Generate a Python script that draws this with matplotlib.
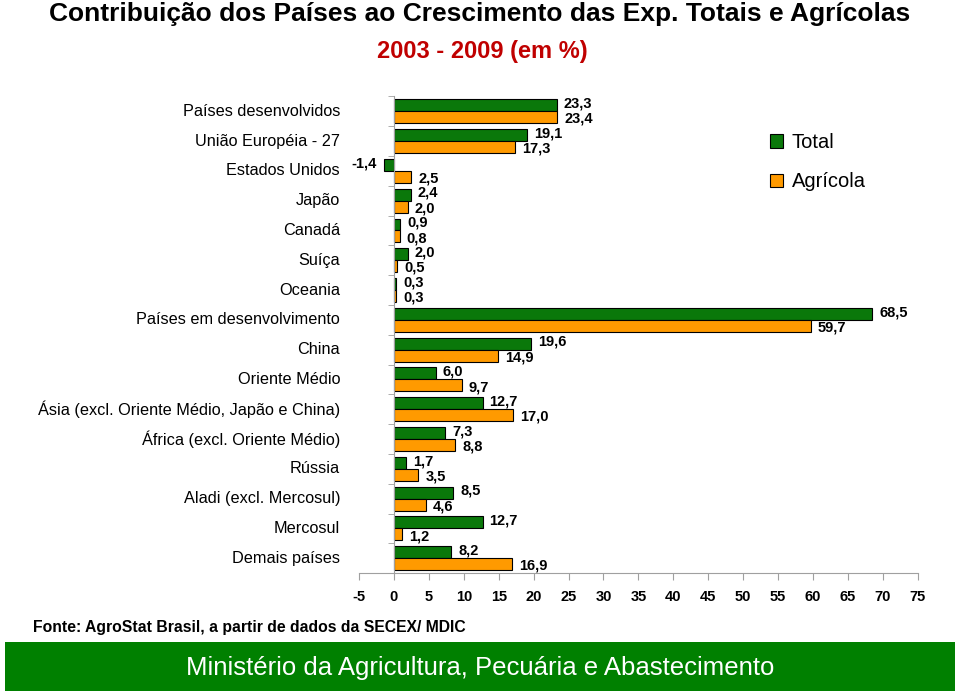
import numpy as np
import matplotlib
matplotlib.use("Agg")
import matplotlib.pyplot as plt
from matplotlib.patches import Rectangle
from matplotlib.transforms import blended_transform_factory

plt.rcParams['font.family'] = ['Liberation Sans', 'DejaVu Sans']

# data
categories = [
    "Países desenvolvidos", "União Européia - 27", "Estados Unidos", "Japão",
    "Canadá", "Suíça", "Oceania", "Países em desenvolvimento", "China",
    "Oriente Médio", "Ásia (excl. Oriente Médio, Japão e China)",
    "África (excl. Oriente Médio)", "Rússia", "Aladi (excl. Mercosul)",
    "Mercosul", "Demais países",
]
total = [23.3, 19.1, -1.4, 2.4, 0.9, 2.0, 0.3, 68.5, 19.6, 6.0, 12.7, 7.3, 1.7, 8.5, 12.7, 8.2]
agricola = [23.4, 17.3, 2.5, 2.0, 0.8, 0.5, 0.3, 59.7, 14.9, 9.7, 17.0, 8.8, 3.5, 4.6, 1.2, 16.9]
xticks = list(range(-5, 80, 5))

GREEN = "#0a780a"
ORANGE = "#ff9a00"
AXIS_GREY = "#a0a0a0"

fig = plt.figure(figsize=(9.6, 6.93), dpi=100)
ax = fig.add_axes([0.374, 0.173, 0.582, 0.688])

y = np.arange(len(categories))
h = 0.4
ax.barh(y - h / 2, total, height=h, color=GREEN, edgecolor="black", linewidth=0.8, label="Total")
ax.barh(y + h / 2, agricola, height=h, color=ORANGE, edgecolor="black", linewidth=0.8, label="Agrícola")


def fmt(v):
    return f"{v:.1f}".replace(".", ",")


# green labels nudged up, orange ones down, so the pair does not collide
for yy, vals, dy in ((y - h / 2, total, 1.2), (y + h / 2, agricola, -1.2)):
    for yi, v in zip(yy, vals):
        dx = 5 if v >= 0 else -5
        ax.annotate(fmt(v), (v, yi), xytext=(dx, dy), textcoords="offset points",
                    ha="left" if v >= 0 else "right", va="center",
                    fontsize=10.5, fontweight="bold")

ax.set_xlim(-5, 75)
ax.set_ylim(len(categories) - 0.5, -0.5)

# axes styling
for s in ("top", "right"):
    ax.spines[s].set_visible(False)
ax.spines["left"].set_position(("data", 0))
ax.spines["left"].set_color(AXIS_GREY)
ax.spines["bottom"].set_color(AXIS_GREY)

ax.set_xticks(xticks)
ax.set_xticklabels([str(t) for t in xticks], fontsize=10.5, fontweight="bold")
ax.tick_params(axis="x", direction="out", length=5, color=AXIS_GREY, pad=7)

ax.set_yticks([])
ax.set_yticks(np.arange(-0.5, len(categories), 1.0), minor=True)
ax.tick_params(axis="y", which="minor", direction="out", length=4, color=AXIS_GREY, labelleft=False)

trans = blended_transform_factory(ax.transAxes, ax.transData)
for yi, name in zip(y, categories):
    ax.text(-0.034, yi, name, transform=trans, ha="right", va="center", fontsize=11.7)

ax.legend(loc="upper left", bbox_to_anchor=(0.783, 0.834), bbox_transform=fig.transFigure,
          frameon=False, fontsize=14.5, handlelength=0.65, handleheight=0.65,
          handletextpad=0.45, labelspacing=1.0)

# titles
fig.text(0.5, 0.98, "Contribuição dos Países ao Crescimento das Exp. Totais e Agrícolas",
         ha="center", va="center", fontsize=19, fontweight="bold")
fig.text(0.502, 0.925, "2003 - 2009 (em %)", ha="center", va="center",
         fontsize=17, fontweight="bold", color="#c00000")

fig.text(0.034, 0.095, "Fonte: AgroStat Brasil, a partir de dados da SECEX/ MDIC",
         ha="left", va="center", fontsize=11.3, fontweight="bold")

# footer band
fig.patches.append(Rectangle((0.005, 0.003), 0.99, 0.071, transform=fig.transFigure,
                             facecolor="#008000", edgecolor="none", zorder=0))
fig.text(0.5, 0.036, "Ministério da Agricultura, Pecuária e Abastecimento",
         ha="center", va="center", fontsize=18.5, color="white")

fig.savefig("out.png", dpi=100)
